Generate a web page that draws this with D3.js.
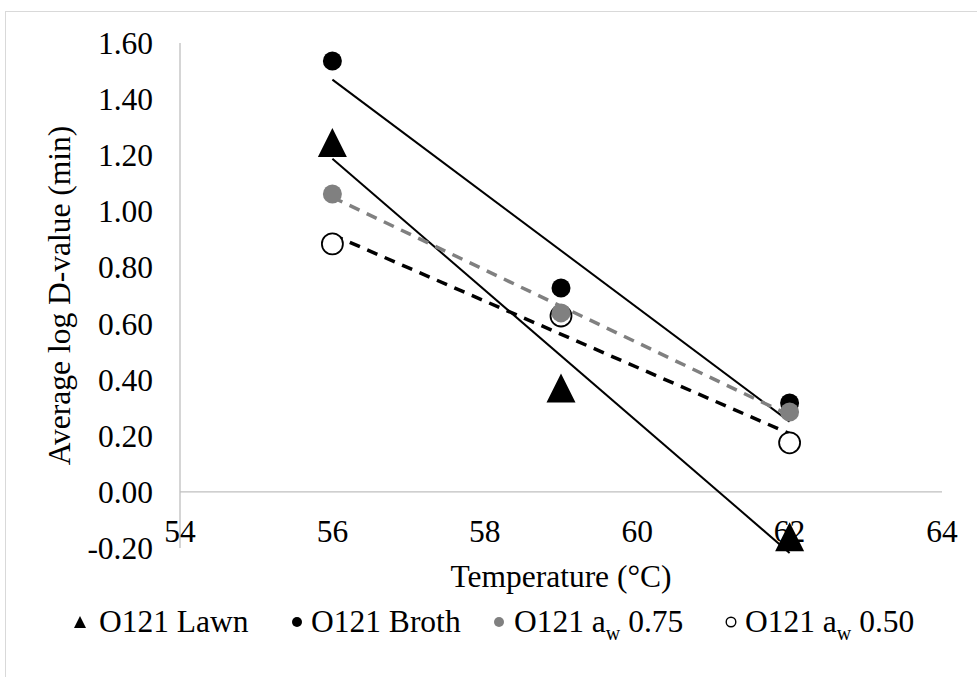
<!DOCTYPE html>
<html>
<head>
<meta charset="utf-8">
<script src="https://cdn.jsdelivr.net/npm/d3@7"></script>
</head>
<body style="margin:0;background:#fff">
<svg id="chart" width="977" height="677"></svg>
<script>
// ---------- Data ----------
const temps = [56, 59, 62];
const lawn = [1.245, 0.37, -0.16];
const broth = [1.536, 0.727, 0.317];
const aw75 = [1.062, 0.638, 0.285];
const aw50 = [0.884, 0.627, 0.175];
const xTicks = [54, 56, 58, 60, 62, 64];
const yTicks = [-0.2, 0, 0.2, 0.4, 0.6, 0.8, 1.0, 1.2, 1.4, 1.6];

const series = [
  { name: 'O121 Lawn', sub: null, values: lawn, shape: 'tri', fill: '#000', line: '#000', lw: 2, dash: null },
  { name: 'O121 Broth', sub: null, values: broth, shape: 'dot', fill: '#000', line: '#000', lw: 2, dash: null },
  { name: 'O121 a', sub: ['w', ' 0.75'], values: aw75, shape: 'dot', fill: '#808080', line: '#808080', lw: 3.5, dash: '11 8' },
  { name: 'O121 a', sub: ['w', ' 0.50'], values: aw50, shape: 'open', fill: '#fff', line: '#000', lw: 3.5, dash: '11 8' }
];

const FONT = '"Liberation Serif", "Times New Roman", serif';
const FS = 31.5;

// ---------- Layout ----------
const svg = d3.select('#chart');
const x = d3.scaleLinear().domain([54, 64]).range([180, 942]);
const y = d3.scaleLinear().domain([-0.2, 1.6]).range([548, 43]);

const txt = (g) => g.append('text').attr('font-family', FONT).attr('font-size', FS).attr('fill', '#000');

// chart border
svg.append('rect').attr('x', 5.5).attr('y', 11.5).attr('width', 1000).attr('height', 700)
  .attr('fill', 'none').attr('stroke', '#d9d9d9').attr('stroke-width', 1);

// axes
svg.append('line').attr('x1', x(54)).attr('x2', x(54)).attr('y1', y(1.6)).attr('y2', y(-0.2))
  .attr('stroke', '#bfbfbf').attr('stroke-width', 1.3);
svg.append('line').attr('x1', x(54)).attr('x2', x(64)).attr('y1', y(0)).attr('y2', y(0))
  .attr('stroke', '#bfbfbf').attr('stroke-width', 1.3);

const gy = svg.append('g');
yTicks.forEach(d => {
  txt(gy).attr('x', 153).attr('y', y(d)).attr('dy', '0.35em')
    .attr('text-anchor', 'end').text(d.toFixed(2));
});
const gx = svg.append('g');
xTicks.forEach(d => {
  txt(gx).attr('x', x(d)).attr('y', 531).attr('dy', '0.35em')
    .attr('text-anchor', 'middle').text(d);
});

txt(svg).attr('transform', `translate(59,${y(0.7)}) rotate(-90)`)
  .attr('text-anchor', 'middle').attr('dy', '0.35em').text('Average log D-value (min)');
txt(svg).attr('x', x(59)).attr('y', 576).attr('dy', '0.35em')
  .attr('text-anchor', 'middle').text('Temperature (°C)');

// ---------- Trend lines (least squares) ----------
function fit(vals) {
  const mx = d3.mean(temps), my = d3.mean(vals);
  const b = d3.sum(temps, (t, i) => (t - mx) * (vals[i] - my)) / d3.sum(temps, t => (t - mx) ** 2);
  return t => my + b * (t - mx);
}
const gLines = svg.append('g');
series.forEach(s => {
  const f = fit(s.values);
  gLines.append('line')
    .attr('x1', x(temps[0])).attr('y1', y(f(temps[0])))
    .attr('x2', x(temps[2])).attr('y2', y(f(temps[2])))
    .attr('stroke', s.line).attr('stroke-width', s.lw)
    .attr('stroke-dasharray', s.dash);
});

// ---------- Markers ----------
const triPath = (cx, cy, w) => `M${cx},${cy - w / 2}L${cx + w / 2},${cy + w / 2}L${cx - w / 2},${cy + w / 2}Z`;
function marker(g, s, cx, cy, big) {
  if (s.shape === 'tri') {
    g.append('path').attr('d', triPath(cx, cy, big ? 29 : 12)).attr('fill', s.fill);
  } else if (s.shape === 'dot') {
    g.append('circle').attr('cx', cx).attr('cy', cy).attr('r', big ? 9.5 : 5).attr('fill', s.fill);
  } else {
    g.append('circle').attr('cx', cx).attr('cy', cy).attr('r', big ? 10.5 : 4.8)
      .attr('fill', '#fff').attr('stroke', '#000').attr('stroke-width', big ? 1.8 : 1.4);
  }
}
const gPts = svg.append('g');
// draw order: aw 0.50 first, then lawn, broth, aw 0.75 on top
[3, 0, 1, 2].forEach(k => {
  const s = series[k];
  s.values.forEach((v, i) => marker(gPts, s, x(temps[i]), y(v), true));
});

// ---------- Legend ----------
const legX = [
  { m: 80, t: 99 },
  { m: 297, t: 311 },
  { m: 499, t: 514 },
  { m: 731, t: 745 }
];
const legY = 621;
const gLeg = svg.append('g');
series.forEach((s, i) => {
  marker(gLeg, s, legX[i].m, legY + 1, false);
  const t = txt(gLeg).attr('x', legX[i].t).attr('y', legY).attr('dy', '0.35em');
  t.append('tspan').text(s.name);
  if (s.sub) {
    t.append('tspan').attr('font-size', 20).attr('dy', 8).text(s.sub[0]);
    t.append('tspan').attr('dy', -8).text(s.sub[1]);
  }
});
</script>
</body>
</html>
